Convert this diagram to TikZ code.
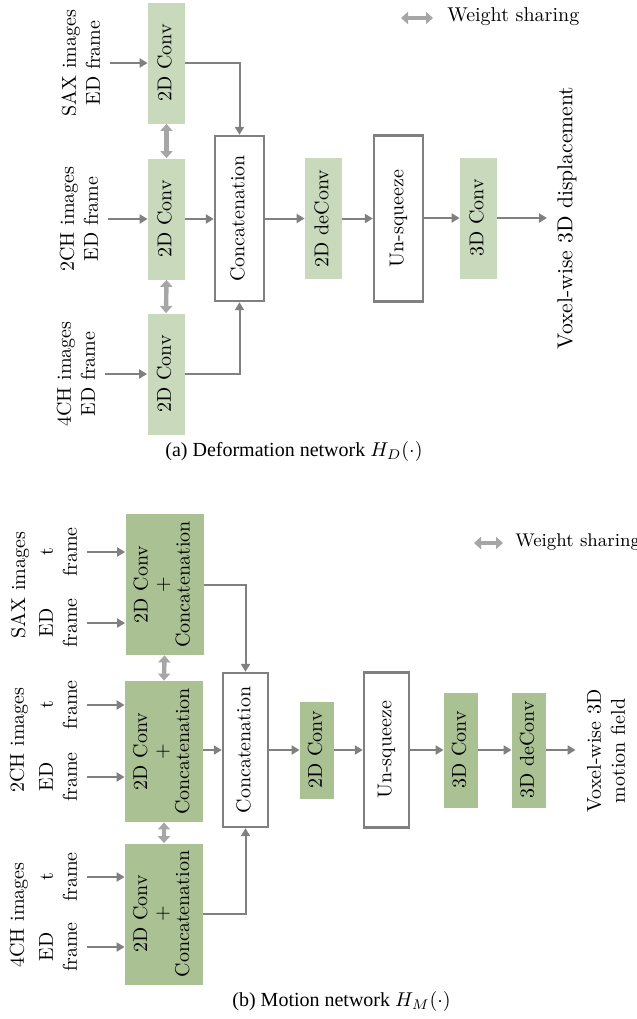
\documentclass[tikz,border=0pt]{standalone}
\usepackage{fontspec}
\usepackage{graphicx}
\newfontfamily\capfont{Liberation Serif}
\usetikzlibrary{arrows.meta}
\definecolor{greenA}{RGB}{201,217,188}
\definecolor{greenB}{RGB}{169,193,147}
\definecolor{lineg}{RGB}{128,128,128}
\definecolor{shareg}{RGB}{166,166,166}
\newcommand{\myrot}[1]{\rotatebox{90}{\begin{tabular}{@{}c@{}}#1\end{tabular}}}
\newcommand{\myrotB}[1]{\rotatebox{90}{\renewcommand{\arraystretch}{0.875}\begin{tabular}{@{}c@{}}#1\end{tabular}}}
\begin{document}
\begin{tikzpicture}[x=0.5pt,y=-0.5pt,
  fa/.style={fill=greenA, inner sep=0pt},
  fb/.style={fill=greenB, inner sep=0pt},
  wbox/.style={draw=lineg, line width=1.2pt, fill=white, inner sep=0pt},
  arr/.style={draw=lineg, line width=1pt, -{Triangle[length=4pt,width=4.5pt]}},
  share/.style={draw=shareg, line width=2.2pt, {Triangle[length=3.5pt,width=6pt]}-{Triangle[length=3.5pt,width=6pt]}},
  lab/.style={inner sep=1.5pt},
  dima/.style={minimum width=18.5pt, minimum height=60.5pt},
  dimb/.style={minimum width=39pt, minimum height=70.5pt}]
\useasboundingbox (0,0) rectangle (637,1019);

% ---------------- (a) ----------------
\node[fa,dima] (s1) at (166.5,63) {\myrot{2D Conv}};
\node[fa,dima] (s2) at (166.5,219) {\myrot{2D Conv}};
\node[fa,dima] (s3) at (166,374) {\myrot{2D Conv}};
\node[lab] (inS) at (83,63) {\myrot{SAX images\\ED frame}};
\node[lab] (inT) at (81,219) {\myrot{2CH images\\ED frame}};
\node[lab] (inF) at (78,374) {\myrot{4CH images\\ED frame}};
\node[wbox, minimum width=24.5pt, minimum height=82.5pt] (ca) at (239.5,218.5) {\myrot{Concatenation}};
\node[fa,dima] (dc) at (323.5,218.5) {\myrot{2D deConv}};
\node[wbox, minimum width=24.5pt, minimum height=83pt] (ua) at (398.5,218.5) {\myrot{Un-squeeze}};
\node[fa,dima] (c3) at (478.5,218) {\myrot{3D Conv}};
\node[inner sep=5pt, font=\fontsize{10.8}{13}\selectfont] (outA) at (567,218) {\rotatebox{90}{Voxel-wise 3D displacement}};

\draw[arr] (inS.east) -- (s1.west);
\draw[arr] (inT.east) -- (s2.west);
\draw[arr] (inF.east) -- (s3.west);
\draw[share] (s1.south) -- (s2.north);
\draw[share] (s2.south) -- (s3.north);
\draw[arr] (s1.east) -| (ca.north);
\draw[arr] (s2.east) -- (s2.east -| ca.west);
\draw[arr] (s3.east) -| (ca.south);
\draw[arr] (ca.east |- dc.west) -- (dc.west);
\draw[arr] (dc.east) -- (dc.east -| ua.west);
\draw[arr] (ua.east |- c3.west) -- (c3.west);
\draw[arr] (c3.east) -- (outA.west);

\coordinate (lgA1) at (401,18);
\coordinate (lgA2) at (433,18);
\draw[share] (lgA1) -- (lgA2);
\node[anchor=west, inner sep=0pt] (wsA) at (447,17) {Weight sharing};

\node[anchor=west, inner sep=0pt, font=\capfont] (capA) at (165,451) {(a) Deformation network $H_D(\cdot)$};

% ---------------- (b) ----------------
\node[fb,dimb] (b1) at (164.5,584.5) {\myrotB{2D Conv\\+\\Concatenation}};
\node[fb,dimb] (b2) at (164,751.5) {\myrotB{2D Conv\\+\\Concatenation}};
\node[fb,dimb] (b3) at (164,914) {\myrotB{2D Conv\\+\\Concatenation}};

\node (tS) at (20,585) {\rotatebox{90}{SAX images}};
\node (tT) at (19,740) {\rotatebox{90}{2CH images}};
\node (tF) at (19,915) {\rotatebox{90}{4CH images}};

\node[lab] (s1t) at (60,552) {\myrot{t\\frame}};
\node[lab] (s1e) at (60,623) {\myrot{ED\\frame}};
\node[lab] (s2t) at (60,705) {\myrot{t\\frame}};
\node[lab] (s2e) at (60,777) {\myrot{ED\\frame}};
\node[lab] (s3t) at (60,877) {\myrot{t\\frame}};
\node[lab] (s3e) at (60,947) {\myrot{ED\\frame}};

\draw[arr] (s1t.east) -- (s1t.east -| b1.west);
\draw[arr] (s1e.east) -- (s1e.east -| b1.west);
\draw[arr] (s2t.east) -- (s2t.east -| b2.west);
\draw[arr] (s2e.east) -- (s2e.east -| b2.west);
\draw[arr] (s3t.east) -- (s3t.east -| b3.west);
\draw[arr] (s3e.east) -- (s3e.east -| b3.west);

\draw[share] (b1.south) -- (b2.north);
\draw[share] (b2.south) -- (b3.north);

\node[wbox, minimum width=22.5pt, minimum height=77pt] (cb) at (245.5,750) {\myrot{Concatenation}};
\node[fb, minimum width=17pt, minimum height=48.5pt] (d2) at (317,750) {\myrot{2D Conv}};
\node[wbox, minimum width=22.5pt, minimum height=77.5pt] (ub) at (386.5,750) {\myrot{Un-squeeze}};
\node[fb, minimum width=17pt, minimum height=57.5pt] (e3) at (461,750) {\myrot{3D Conv}};
\node[fb, minimum width=17pt, minimum height=57.5pt] (f3) at (529,750) {\myrot{3D deConv}};
\node[inner sep=4pt] (outB) at (608,751) {\myrot{Voxel-wise 3D\\motion field}};

\draw[arr] (b1.east) -| (cb.north);
\draw[arr] (b2.east |- cb.west) -- (cb.west);
\draw[arr] (b3.east) -| (cb.south);
\draw[arr] (cb.east) -- (d2.west);
\draw[arr] (d2.east) -- (ub.west);
\draw[arr] (ub.east) -- (e3.west);
\draw[arr] (e3.east) -- (f3.west);
\draw[arr] (f3.east) -- (f3.east -| outB.west);

\coordinate (lgB1) at (474,543);
\coordinate (lgB2) at (503,543);
\draw[share] (lgB1) -- (lgB2);
\node[anchor=west, inner sep=0pt, font=\fontsize{9.2}{11}\selectfont] (wsB) at (515,542) {Weight sharing};

\node[anchor=west, inner sep=0pt, font=\capfont] (capB) at (232,1001) {(b) Motion network $H_M(\cdot)$};
\end{tikzpicture}
\end{document}
